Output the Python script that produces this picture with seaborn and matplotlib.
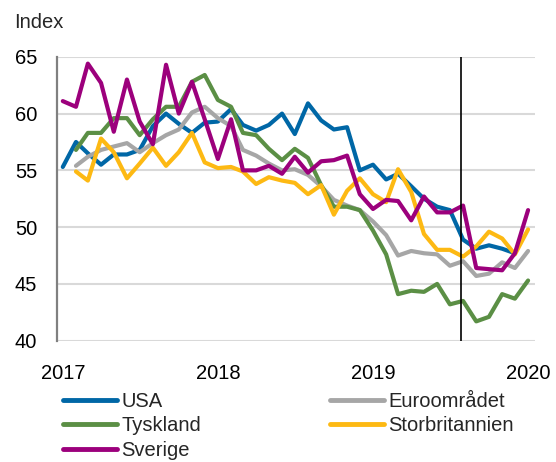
import numpy as np
import pandas as pd
import matplotlib
matplotlib.use("Agg")
import matplotlib.pyplot as plt
import seaborn as sns

# monthly data, Jan 2017 - Jan 2020
months = pd.date_range("2017-01-01", "2020-01-01", freq="MS")
nan = np.nan

usa = [55.3, 57.5, 56.5, 55.5, 56.4, 56.4, 56.8, 58.9, 60.0, 59.1, 58.3, 59.2,
       59.3, 60.4, 59.0, 58.5, 59.0, 60.0, 58.2, 60.9, 59.4, 58.6, 58.8, 55.0,
       55.5, 54.2, 54.7, 53.6, 52.5, 51.8, 51.5, 48.9, 48.1, 48.4, 48.1, 47.7,
       nan]
euro = [nan, 55.4, 56.2, 56.8, 57.1, 57.4, 56.6, 57.4, 58.1, 58.6, 60.1, 60.6,
        59.6, 58.9, 56.8, 56.3, 55.6, 55.0, 55.1, 54.6, 53.6, 52.4, 51.9, 51.5,
        50.5, 49.3, 47.5, 47.9, 47.7, 47.6, 46.6, 47.0, 45.7, 45.9, 46.9, 46.4,
        47.9]
tyskland = [nan, 56.8, 58.3, 58.3, 59.6, 59.6, 58.1, 59.5, 60.6, 60.6, 62.8, 63.4,
            61.2, 60.6, 58.3, 58.1, 56.9, 55.9, 56.9, 56.1, 53.7, 51.8, 51.8, 51.5,
            49.7, 47.6, 44.1, 44.4, 44.3, 45.0, 43.2, 43.5, 41.7, 42.1, 44.1, 43.7,
            45.3]
uk = [nan, 54.9, 54.1, 57.8, 56.6, 54.3, 55.6, 57.0, 55.4, 56.6, 58.3, 55.7,
      55.2, 55.3, 54.9, 53.8, 54.4, 54.1, 53.9, 52.9, 53.7, 51.1, 53.2, 54.3,
      52.9, 52.2, 55.1, 53.1, 49.4, 48.0, 48.0, 47.4, 48.3, 49.6, 49.0, 47.6,
      49.8]
sverige = [61.1, 60.6, 64.4, 62.7, 58.4, 63.0, 59.3, 57.3, 64.3, 60.0, 62.8, 59.5,
           56.0, 59.5, 55.0, 55.0, 55.4, 54.7, 56.2, 54.8, 55.8, 55.9, 56.3, 52.9,
           51.6, 52.4, 52.3, 50.6, 52.7, 51.3, 51.3, 51.9, 46.4, 46.3, 46.2, 47.7,
           51.5]

series_names = ["USA", "Euroområdet", "Tyskland", "Storbritannien", "Sverige"]
series_values = [usa, euro, tyskland, uk, sverige]
colors = ["#0067A6", "#A6A6A6", "#5B8F45", "#FDB913", "#9C007C"]

y_ticks = [40, 45, 50, 55, 60, 65]
year_ticks = ["2017", "2018", "2019", "2020"]
marker_date = pd.Timestamp("2019-07-28")

df = pd.concat(
    [pd.DataFrame({"date": months, "value": v, "serie": n})
     for n, v in zip(series_names, series_values)],
    ignore_index=True,
)

sns.set_style("white")
plt.rcParams["font.family"] = ["Liberation Sans", "DejaVu Sans"]
fs = 14.5

fig = plt.figure(figsize=(5.56, 4.62), dpi=100)
ax = fig.add_axes([0.103, 0.2626, 0.859, 0.6144])

sns.lineplot(data=df, x="date", y="value", hue="serie", hue_order=series_names,
             palette=colors, linewidth=3, ax=ax, legend=False, sort=False)

ax.axvline(marker_date, color="black", linewidth=1.2)

ax.set_ylim(40, 65)
ax.set_yticks(y_ticks)
ax.set_xlim(pd.Timestamp("2016-12-19"), pd.Timestamp("2020-01-17"))
ax.set_xticks([pd.Timestamp(y + "-01-01") for y in year_ticks])
ax.set_xticklabels(year_ticks)
ax.set_xlabel("")
ax.set_ylabel("")
ax.yaxis.grid(True, color="#d9d9d9", linewidth=1.5)
ax.xaxis.grid(False)
ax.tick_params(axis="both", length=0, labelsize=fs, colors="black")
ax.tick_params(axis="y", pad=14.5)
ax.tick_params(axis="x", pad=16.5)
for s in ["top", "right", "bottom"]:
    ax.spines[s].set_visible(False)
ax.spines["left"].set_color("#808080")
ax.spines["left"].set_linewidth(1.6)

fig.text(14 / 556, 0.952, "Index", fontsize=fs, ha="left", va="center")

# legend: column-first fill -> USA, Tyskland, Sverige | Euroområdet, Storbritannien
order = [0, 2, 4, 1, 3]
handles = [plt.Line2D([], [], color=colors[i], linewidth=3.5, solid_capstyle="round")
           for i in order]
labels = [series_names[i] for i in order]
fig.legend(handles, labels, ncol=2, loc="upper left",
           bbox_to_anchor=(63 / 556, 1 - 392 / 462), frameon=False,
           fontsize=fs, handlelength=2.7, handletextpad=0.2,
           columnspacing=6.4, labelspacing=0.27, borderaxespad=0, borderpad=0)

fig.savefig("out.png", dpi=100)
